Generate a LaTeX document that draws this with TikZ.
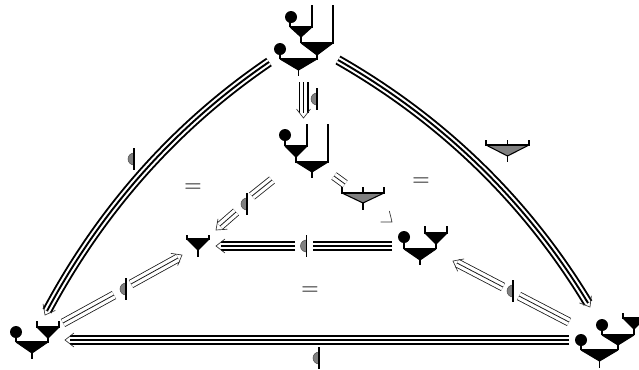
\documentclass[tikz,border=0pt]{standalone}
\usetikzlibrary{calc}
\tikzset{
  wire/.style={line width=1.3pt,line cap=butt,line join=miter},
  ballnode/.style={circle,fill=black,inner sep=0pt,minimum size=9pt},
  eqnode/.style={inner sep=0pt,font=\fontsize{18}{18}\selectfont},
  headline/.style={draw=black!80,line width=.5pt,line join=miter},
  barline/.style={line width=1pt},
  discfill/.style={fill=black!50,draw=black!70,line width=.4pt},
}
% funnel: left x, right x, top y, apex y, stem end y, left tick top y, right tick top y, colour
\newcommand{\fnl}[8]{%
  \pgfmathsetmacro{\fmid}{(#1+#2)/2}
  \fill[#8] (#1,#3) -- (#2,#3) -- (\fmid,#4) -- cycle;
  \draw[wire] (#1,#6) -- (#1,#3) -- (#2,#3) -- (#2,#7);
  \draw[line width=.8pt] (#1,#3) -- (\fmid,#4) -- (#2,#3);
  \draw[wire] (\fmid,#4-1) -- (\fmid,#5);
}
\newcommand{\thicktrip}[1]{%
  \draw[line width=7.5pt,black] #1;
  \draw[line width=4.6pt,white] #1;
  \draw[line width=1.45pt,black] #1;
}
\newcommand{\thintrip}[1]{%
  \draw[line width=6.7pt,black!90] #1;
  \draw[line width=5.5pt,white] #1;
  \draw[line width=.6pt,black!90] #1;
}
% arrow head at tip, coming from
\newcommand{\hd}[2]{%
  \draw[headline] ($(#1)!8.5pt!38:(#2)$) -- (#1) -- ($(#1)!8.5pt!-38:(#2)$);
}
% half-disc + bar at x,y
\newcommand{\sym}[3]{%
  \path[discfill] (#2,#3-6) arc[start angle=90,end angle=270,radius=4.5pt] -- cycle;
  \draw[barline] (#2,#3-11) -- (#2,#3+11);
  \node[inner sep=0pt,minimum size=0pt] (#1) at (#2,#3) {};
}
\begin{document}
\begin{tikzpicture}[x=.75pt,y=-.75pt]
\useasboundingbox (0,0) rectangle (639,369);
\path[clip] (0,0) rectangle (639,369);

% --- top composite
\fnl{290}{312}{27}{37}{43}{27}{5}{black}
\fnl{301}{333}{43}{55}{60}{43}{5}{black}
\fnl{280}{317}{59}{70}{76}{59}{59}{black}
\node[ballnode] (t1) at (291,17) {};
\node[ballnode] (t2) at (280,49) {};
\draw[wire] (290,17) -- (290,27);
\draw[wire] (280,49) -- (280,59);

% --- middle composite
\fnl{285}{307}{146}{157}{163}{146}{124}{black}
\fnl{296}{328}{162}{172}{178}{162}{124}{black}
\node[ballnode] (m1) at (285,135) {};
\draw[wire] (285,135) -- (285,146);

% --- gray funnels
\fnl{342}{384}{193}{203}{210}{187}{187}{black!50}
\draw[wire] (363,187) -- (363,193);
\fnl{486}{529}{145}{156}{162}{140}{140}{black!50}
\draw[wire] (507.5,140) -- (507.5,145);

% --- small funnel
\fnl{187}{209}{239}{250}{257}{235}{235}{black}

% --- right middle composite
\fnl{425}{447}{233}{244}{249}{226}{226}{black}
\fnl{404}{436}{249}{260}{265}{249}{249}{black}
\node[ballnode] (r1) at (404,237) {};
\draw[wire] (404,237) -- (404,249);

% --- bottom-left composite
\fnl{37}{59}{327}{338}{343}{321}{321}{black}
\fnl{16}{48}{342}{353}{359}{342}{342}{black}
\node[ballnode] (l1) at (16,332) {};
\draw[wire] (16,332) -- (16,342);

% --- bottom-right composite
\fnl{623}{645}{318}{329}{335}{313}{313}{black}
\fnl{602}{634}{335}{345}{350}{335}{335}{black}
\fnl{581}{618}{350}{361}{368}{350}{350}{black}
\node[ballnode] (b1) at (602,325) {};
\node[ballnode] (b2) at (581,340) {};
\draw[wire] (602,325) -- (602,335);
\draw[wire] (581,340) -- (581,350);

% --- connector end points
\coordinate (aT) at (269,62);
\coordinate (aLe) at (47,311);
\coordinate (aLt) at (45,315);
\coordinate (aR) at (338,60);
\coordinate (aRe) at (588,303);
\coordinate (aRt) at (590,307);

% --- big curved
\thicktrip{(aT) .. controls (175,126) and (101,210) .. (aLe)}
\hd{aLt}{101,210}
\thicktrip{(aR) .. controls (443,120) and (527,202) .. (aRe)}
\hd{aRt}{527,202}

% --- top down
\coordinate (dS) at (303.5,82);
\coordinate (dE) at (303.5,113);
\coordinate (dT) at (303.5,118);
\thicktrip{(dS) -- (dE)}
\hd{dT}{dS}
\sym{sd}{317}{99}

% --- middle horizontal
\coordinate (hA) at (392,246);
\coordinate (hB) at (313,246);
\coordinate (hC) at (295,246);
\coordinate (hD) at (221,246);
\coordinate (hT) at (216,246);
\thicktrip{(hA) -- (hB)}
\thicktrip{(hC) -- (hD)}
\hd{hT}{hC}
\sym{sh}{306.5}{246}

% --- bottom horizontal
\coordinate (bA) at (569,340);
\coordinate (bD) at (70,340);
\coordinate (bT) at (65,340);
\thicktrip{(bA) -- (bD)}
\hd{bT}{bA}
\sym{sb}{319}{358}

% --- thin diagonal: middle to small
\coordinate (iA) at (272,180);
\coordinate (iB) at (252,196);
\coordinate (iC) at (236,212);
\coordinate (iD) at (220,226);
\coordinate (iT) at (216,230);
\thintrip{(iA) -- (iB)}
\thintrip{(iC) -- (iD)}
\hd{iT}{iC}
\sym{si}{247}{204}

% --- thin diagonal: middle to right composite (passes behind gray funnel)
\coordinate (jA) at (334,176);
\coordinate (jB) at (345,184);
\coordinate (jT) at (392,222);
\thintrip{(jA) -- (jB)}
\hd{jT}{jA}

% --- thin diagonal: bottom-left to small
\coordinate (kA) at (63,323);
\coordinate (kB) at (114,295);
\coordinate (kC) at (131,284);
\coordinate (kD) at (178,258);
\coordinate (kT) at (182,255);
\thintrip{(kA) -- (kB)}
\thintrip{(kC) -- (kD)}
\hd{kT}{kC}
\sym{sk}{126}{289}

% --- thin diagonal: bottom-right to right composite
\coordinate (nA) at (569,322);
\coordinate (nB) at (519,296);
\coordinate (nC) at (503,287);
\coordinate (nD) at (457,263);
\coordinate (nT) at (453,261);
\thintrip{(nA) -- (nB)}
\thintrip{(nC) -- (nD)}
\hd{nT}{nC}
\sym{sn}{513}{291}

% --- symbol on the left curve
\sym{sl}{134}{159}

% --- equals
\node[eqnode] (e1) at (193,188) {=};
\node[eqnode] (e2) at (421,182) {=};
\node[eqnode] (e3) at (310,291) {=};
\end{tikzpicture}
\end{document}
